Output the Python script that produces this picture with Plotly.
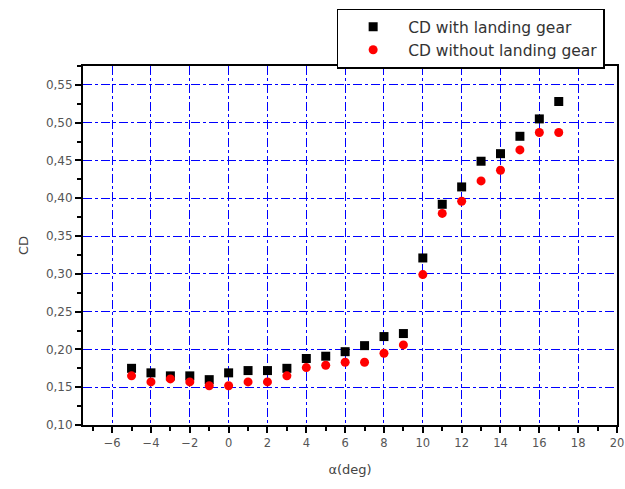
import plotly.graph_objects as go

alpha = [-5, -4, -3, -2, -1, 0, 1, 2, 3, 4, 5, 6, 7, 8, 9, 10, 11, 12, 13, 14, 15, 16, 17]
cd_with_gear = [0.175, 0.169, 0.165, 0.165, 0.160, 0.169, 0.172, 0.172, 0.175, 0.188, 0.191, 0.197,
                0.205, 0.217, 0.221, 0.321, 0.392, 0.415, 0.449, 0.459, 0.482, 0.505, 0.528]
cd_without_gear = [0.165, 0.157, 0.161, 0.157, 0.152, 0.152, 0.157, 0.157, 0.165, 0.176, 0.179, 0.183,
                   0.183, 0.195, 0.206, 0.299, 0.380, 0.396, 0.423, 0.437, 0.464, 0.487, 0.487]

x_ticks = [-6, -4, -2, 0, 2, 4, 6, 8, 10, 12, 14, 16, 18, 20]
y_ticks = [0.10, 0.15, 0.20, 0.25, 0.30, 0.35, 0.40, 0.45, 0.50, 0.55]
y_ticklabels = [f"{v:.2f}".replace(".", ",") for v in y_ticks]

font = "DejaVu Sans, Arial, sans-serif"

fig = go.Figure()
fig.add_trace(go.Scatter(x=alpha, y=cd_with_gear, mode="markers", name="CD with landing gear",
                         marker=dict(symbol="square", size=9, color="black")))
fig.add_trace(go.Scatter(x=alpha, y=cd_without_gear, mode="markers", name="CD without landing gear",
                         marker=dict(symbol="circle", size=9, color="#ff0000")))

fig.update_layout(
    width=625, height=489,
    margin=dict(l=83, r=8, t=66, b=64),
    paper_bgcolor="white", plot_bgcolor="white",
    font=dict(family=font, size=12, color="#444"),
    legend=dict(x=0.475, y=1.16, xanchor="left", yanchor="top",
                bordercolor="black", borderwidth=1.5, bgcolor="white",
                font=dict(size=15.5, color="#333"), itemwidth=60, tracegroupgap=0),
    showlegend=True,
)
fig.update_xaxes(
    range=[-7.5, 20], tickvals=x_ticks, ticks="outside", ticklen=6, tickwidth=1.5, tickcolor="black",
    showline=True, linecolor="black", linewidth=2, mirror=True, automargin=False,
    showgrid=True, gridcolor="#0000ff", griddash="dashdot", gridwidth=1.3,
    zeroline=False, ticklabeloverflow="allow",
    minor=dict(dtick=1, tick0=0, ticks="outside", ticklen=4, tickcolor="black", showgrid=False),
    tickfont=dict(size=11.5, color="#555"),
    title=dict(text="α(deg)", font=dict(size=13, color="#444"), standoff=16),
)
fig.update_yaxes(
    range=[0.10, 0.575], tickvals=y_ticks, ticktext=y_ticklabels, ticks="outside", ticklen=6,
    tickwidth=1.5, tickcolor="black",
    showline=True, linecolor="black", linewidth=2, mirror=True, automargin=False,
    showgrid=True, gridcolor="#0000ff", griddash="dashdot", gridwidth=1.3,
    zeroline=False,
    minor=dict(dtick=0.025, tick0=0.1, ticks="outside", ticklen=4, tickcolor="black", showgrid=False),
    tickfont=dict(size=12, color="#555"),
    title=dict(text="CD", font=dict(size=13, color="#444"), standoff=14),
)

fig.write_html("out.html")
